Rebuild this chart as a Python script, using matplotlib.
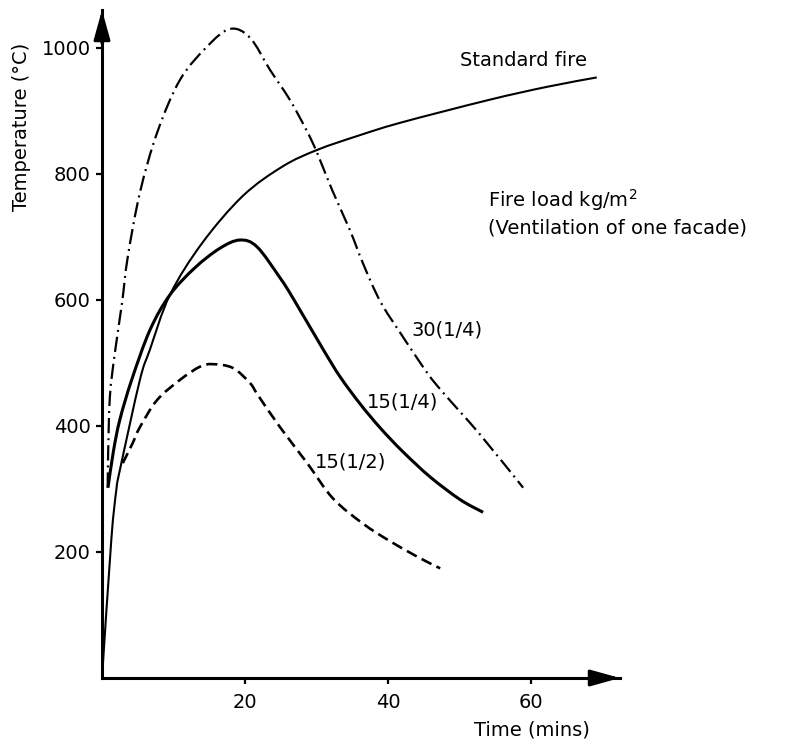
import matplotlib
matplotlib.use('Agg')
import matplotlib.pyplot as plt
import numpy as np
from matplotlib.path import Path
from matplotlib.patches import PathPatch

# ---- data ----
std_t = [0, 1.3, 2.0, 2.5, 5.3, 6.7, 9.5, 14, 19.7, 25.3, 30.1, 35.7, 41.7, 54, 62.2, 69.2]
std_T = [0, 219, 298, 330, 473, 521, 608, 690, 765, 812, 838, 860, 881, 917, 938, 953]

q15_t = [0.84, 1.6, 2.5, 4.15, 6.7, 9.5, 13, 16.5, 19.3, 21.7, 24.9, 26.7, 30.9, 33.3, 36.1, 38.9,
         42, 45.9, 50.1, 53.3]
q15_T = [302, 360, 410, 473, 552, 608, 651, 682, 695, 684, 635, 603, 522, 478, 435, 397,
         360, 319, 283, 263]

q30_t = [0.8, 0.85, 1.1, 1.8, 2.8, 3.6, 5.3, 7.7, 10.9, 14.7, 17.9, 20.7, 23.5, 26.3, 28.7, 30.1,
         32.2, 34.7, 36.5, 38.9, 41.7, 45.5, 47.7, 52.9, 58.9]
q30_T = [302, 351, 446, 516, 595, 668, 770, 865, 949, 1002, 1030, 1016, 965, 917, 867, 833,
         774, 710, 658, 598, 548, 484, 453, 386, 302]

h15_t = [2.9, 4.3, 5.3, 7.7, 10.9, 13.7, 15.5, 18.3, 20.7, 21.8, 24.9, 28.7, 32.3, 36.5, 40.3, 44.5, 47.3]
h15_T = [341, 373, 398, 441, 473, 494, 498, 492, 468, 449, 398, 341, 285, 245, 217, 190, 174]

x_ticks = [20, 40, 60]
y_ticks = [200, 400, 600, 800, 1000]

plt.rcParams['lines.scale_dashes'] = False
plt.rcParams['font.family'] = ['DejaVu Sans']


def smooth_path(t, T):
    """Smooth Bezier path through the data points (Catmull-Rom control points)."""
    p = np.column_stack([t, T]).astype(float)
    n = len(p)
    verts = [p[0]]
    codes = [Path.MOVETO]
    for i in range(n - 1):
        a = p[i - 1] if i > 0 else p[i]
        d = p[i + 2] if i + 2 < n else p[i + 1]
        c1 = p[i] + (p[i + 1] - a) / 6.0
        c2 = p[i + 1] - (d - p[i]) / 6.0
        verts += [c1, c2, p[i + 1]]
        codes += [Path.CURVE4] * 3
    return Path(verts, codes)


W, H = 789, 740
fig = plt.figure(figsize=(W / 100, H / 100), dpi=100)
x0, y0, x1, y1 = 102, 678, 620, 10
ax = fig.add_axes([x0 / W, 1 - y0 / H, (x1 - x0) / W, (y0 - y1) / H])
ax.set_xlim(0, 72.45)
ax.set_ylim(0, 1060)

ax.add_patch(PathPatch(smooth_path(std_t, std_T), fill=False, ec='k', lw=1.5))
ax.add_patch(PathPatch(smooth_path(q15_t, q15_T), fill=False, ec='k', lw=2.2))
ax.add_patch(PathPatch(smooth_path(q30_t, q30_T), fill=False, ec='k', lw=1.6,
                       linestyle=(0, (11, 3.6, 1.4, 3.6))))
ax.add_patch(PathPatch(smooth_path(h15_t, h15_T), fill=False, ec='k', lw=1.9,
                       linestyle=(0, (8, 4))))

for s in ['top', 'right']:
    ax.spines[s].set_visible(False)
for s in ['left', 'bottom']:
    ax.spines[s].set_linewidth(2.2)

ax.set_xticks(x_ticks)
ax.set_yticks(y_ticks)
ax.tick_params(axis='both', direction='out', length=4, width=1.6, labelsize=14)
ax.tick_params(axis='x', pad=7)
ax.tick_params(axis='y', pad=4)

# arrow heads
ap = dict(arrowstyle='-|>,head_length=1.8,head_width=0.5', lw=2.2, color='k',
          shrinkA=0, shrinkB=0)
ax.annotate('', xy=(0, 1), xytext=(0, 0.95), xycoords='axes fraction', arrowprops=ap)
ax.annotate('', xy=(1, 0), xytext=(0.95, 0), xycoords='axes fraction', arrowprops=ap)

fs = 14
fig.text(22 / W, 1 - 127 / H, 'Temperature (°C)', rotation=90, ha='center', va='center', fontsize=fs)
fig.text(532 / W, 1 - 730 / H, 'Time (mins)', ha='center', va='center', fontsize=fs)
fig.text(524 / W, 1 - 61 / H, 'Standard fire', ha='center', va='center', fontsize=fs)
fig.text(488 / W, 1 - 200 / H, 'Fire load kg/m$^2$', ha='left', va='center', fontsize=fs)
fig.text(488 / W, 1 - 228 / H, '(Ventilation of one facade)', ha='left', va='center', fontsize=fs)
fig.text(447 / W, 1 - 330 / H, '30(1/4)', ha='center', va='center', fontsize=fs)
fig.text(403 / W, 1 - 402 / H, '15(1/4)', ha='center', va='center', fontsize=fs)
fig.text(351 / W, 1 - 462 / H, '15(1/2)', ha='center', va='center', fontsize=fs)

fig.savefig('out.png', dpi=100)
